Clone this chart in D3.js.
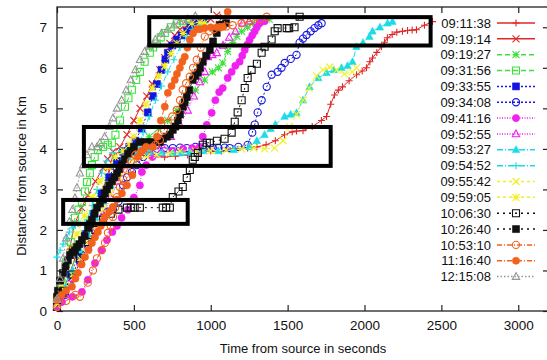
<!DOCTYPE html>
<html>
<head>
<meta charset="utf-8">
<script src="https://cdn.jsdelivr.net/npm/d3@7/dist/d3.min.js"></script>
<style>
body { margin: 0; background: #fff; overflow: hidden; }
text { font-family: "Liberation Sans", Arial, sans-serif; fill: #111; }
</style>
</head>
<body>
<svg id="chart"></svg>
<script>
// DATA  (time from source in s, distance in km)

var labels = ["09:11:38", "09:19:14", "09:19:27", "09:31:56", "09:33:55", "09:34:08",
	"09:41:16", "09:52:55", "09:53:27", "09:54:52", "09:55:42", "09:59:05",
	"10:06:30", "10:26:40", "10:53:10", "11:16:40", "12:15:08"];

var s091138 = [[0,0.15],[40,0.5],[80,0.9],[117,1.3],[160,1.7],[200,2.0],[250,2.5],[299,3.0],[340,3.5],[364,3.85],[420,3.95],[480,3.9],[540,3.85],[620,3.8],[700,3.8],[770,3.82],[850,3.85],[930,3.9],[1000,3.95],[1070,3.95],[1150,4.0],[1240,4.02],[1300,4.05],[1360,4.1],[1420,4.2],[1480,4.35],[1530,4.42],[1558,4.44],[1600,4.45],[1660,4.55],[1720,4.7],[1753,4.8],[1780,5.1],[1805,5.33],[1830,5.45],[1857,5.53],[1900,5.68],[1948,5.83],[1985,5.92],[2013,6.0],[2035,6.15],[2052,6.24],[2080,6.38],[2110,6.52],[2130,6.63],[2149,6.74],[2180,6.82],[2210,6.88],[2247,6.9],[2280,6.92],[2310,6.93],[2338,6.94],[2390,7.05],[2442,7.14]];
var s091914 = [[0,0.1],[30,0.5],[60,1.0],[84,1.58],[117,2.17],[160,2.55],[200,2.85],[250,3.2],[299,3.53],[330,3.75],[364,3.93],[409,4.05],[455,4.35],[500,4.7],[540,5.0],[584,5.3],[620,5.6],[669,5.95],[700,6.25],[734,6.6],[766,6.8],[800,6.95],[850,7.05],[900,7.1],[950,7.15],[1000,7.2],[1039,7.3],[1080,7.25]];
var s091927 = [[0,0.2],[40,0.5],[80,0.9],[130,1.4],[180,1.9],[230,2.4],[280,2.9],[330,3.3],[380,3.7],[430,3.95],[480,4.05],[540,4.15],[600,4.3],[660,4.5],[720,4.7],[780,4.95],[840,5.2],[900,5.45],[960,5.7],[1010,5.9],[1050,6.0],[1078,6.12],[1110,6.4],[1143,6.62],[1170,6.78],[1201,6.9],[1240,7.0],[1273,7.1],[1320,7.15],[1380,7.2]];
var s093156 = [[0,0.25],[30,0.7],[60,1.2],[90,1.7],[117,2.3],[140,2.5],[162,2.69],[182,2.95],[195,3.18],[214,3.4],[227,3.6],[245,3.8],[266,3.97],[300,4.05],[330,4.1],[357,4.15],[380,4.35],[410,4.7],[442,5.04],[465,5.25],[487,5.46],[515,5.7],[539,5.9],[570,6.15],[604,6.37],[625,6.5],[649,6.6],[675,6.75],[701,6.86],[740,7.0],[779,7.1],[820,7.15],[860,7.2]];
var s093355 = [[0,0.1],[40,0.4],[90,0.9],[140,1.4],[190,1.9],[240,2.4],[290,2.9],[340,3.3],[390,3.7],[430,3.95],[470,4.05],[510,4.2],[550,4.5],[590,4.9],[623,5.3],[650,5.6],[680,5.95],[705,6.2],[721,6.37],[750,6.55],[780,6.7],[810,6.8],[844,6.9],[870,7.0],[896,7.1],[930,7.15],[960,7.2]];
var s093408 = [[0,0.1],[50,0.4],[100,0.8],[150,1.2],[200,1.6],[250,2.0],[300,2.3],[330,2.45],[364,2.5],[400,2.7],[430,3.1],[455,3.3],[487,3.43],[520,3.6],[560,3.8],[600,3.95],[650,4.0],[700,4.02],[753,4.02],[800,4.03],[844,4.02],[900,4.05],[960,4.05],[1013,4.02],[1050,4.02],[1090,4.03],[1123,4.02],[1180,4.05],[1240,4.1],[1270,4.4],[1286,4.6],[1305,4.9],[1331,5.2],[1364,5.53],[1396,5.83],[1435,5.9],[1460,6.0],[1481,6.12],[1520,6.22],[1558,6.32],[1578,6.62],[1600,6.72],[1623,6.81],[1650,6.9],[1675,6.98],[1700,7.05],[1721,7.1]];
var s094116 = [[0,0.1],[32,0.22],[100,0.35],[162,0.47],[201,0.77],[247,1.18],[292,1.5],[325,1.75],[360,1.95],[390,2.1],[420,2.3],[461,2.5],[500,2.8],[539,3.1],[552,3.43],[580,3.6],[620,3.8],[680,3.9],[750,3.95],[820,4.0],[880,4.02],[929,4.05],[948,4.3],[974,4.59],[1006,4.89],[1030,5.2],[1055,5.4],[1078,5.5],[1110,5.75],[1136,5.9],[1160,6.05],[1188,6.15],[1205,6.3],[1221,6.44],[1238,6.57],[1253,6.69],[1270,6.8],[1286,6.9],[1300,7.0],[1318,7.1],[1350,7.15]];
var s095255 = [[0,0.1],[50,0.4],[100,0.8],[150,1.2],[200,1.6],[250,2.0],[300,2.4],[350,2.8],[400,3.2],[450,3.6],[500,3.9],[560,4.0],[620,4.05],[680,4.1],[740,4.3],[800,4.6],[850,4.95],[890,5.3],[930,5.65],[961,5.9],[981,6.27],[1010,6.32],[1039,6.37],[1080,6.55],[1120,6.75],[1160,6.9],[1208,7.1],[1250,7.15]];
var s095327 = [[0,0.2],[50,0.6],[100,1.0],[150,1.5],[200,1.9],[250,2.3],[300,2.7],[350,3.1],[400,3.5],[460,3.8],[520,3.9],[600,3.92],[680,3.9],[753,3.9],[810,3.9],[864,3.92],[950,3.95],[1050,3.95],[1150,3.98],[1250,4.05],[1300,4.2],[1350,4.35],[1390,4.5],[1420,4.6],[1480,4.8],[1520,4.85],[1558,4.89],[1600,5.2],[1643,5.53],[1700,5.75],[1753,5.88],[1800,5.95],[1850,6.0],[1890,6.05],[1922,6.15],[1948,6.52],[1990,6.62],[2032,6.77],[2052,6.9],[2100,7.0],[2150,7.1],[2182,7.14]];
var s095452 = [[0,1.33],[20,1.5],[40,1.65],[60,1.8],[80,1.95],[100,2.05],[120,2.12],[150,2.15],[182,2.17],[195,2.25],[230,2.6],[260,3.0],[290,3.4],[320,3.7],[360,3.9],[420,3.95],[480,4.0],[526,4.05],[560,4.4],[600,4.8],[640,5.2],[680,5.55],[720,5.9],[760,6.2],[800,6.5],[844,6.77],[880,6.95],[920,7.05],[960,7.1]];
var s095542 = [[0,0.15],[50,0.5],[100,0.9],[150,1.3],[200,1.7],[250,2.1],[300,2.5],[350,2.9],[400,3.3],[450,3.6],[500,3.75],[584,3.8],[650,3.85],[734,3.9],[800,3.95],[900,3.95],[1000,3.95],[1100,3.97],[1200,4.0],[1280,4.02],[1350,4.0],[1416,4.02],[1470,4.2],[1513,4.54],[1558,4.85],[1600,5.2],[1640,5.5],[1688,5.8],[1730,5.95],[1773,6.02],[1820,5.95],[1870,5.85],[1920,5.9],[1948,6.0]];
var s095905 = [[0,0.2],[30,0.6],[52,1.09],[90,1.5],[130,1.9],[180,2.35],[230,2.8],[280,3.2],[330,3.55],[380,3.8],[430,3.95],[470,4.1],[500,4.3],[540,4.7],[580,5.1],[620,5.5],[660,5.8],[700,6.05],[740,6.35],[780,6.6],[820,6.85],[877,7.1],[930,7.12],[961,7.1]];
var s100630 = [[0,0.1],[50,0.5],[100,0.9],[150,1.3],[200,1.7],[250,2.0],[300,2.25],[350,2.4],[400,2.5],[455,2.55],[480,2.55],[505,2.55],[539,2.55],[688,2.55],[710,2.55],[734,2.55],[753,2.81],[790,2.95],[818,3.06],[844,3.28],[864,3.48],[883,3.73],[896,3.8],[916,3.9],[948,4.1],[974,4.15],[994,4.15],[1040,4.2],[1090,4.25],[1136,4.4],[1156,4.67],[1175,4.9],[1201,5.2],[1221,5.5],[1240,5.75],[1266,5.95],[1300,6.1],[1331,6.37],[1350,6.52],[1396,6.7],[1416,6.9],[1435,6.98],[1494,6.98],[1510,6.98],[1545,7.0],[1578,7.26]];
var s102640 = [[0,0.35],[6,0.5],[20,0.75],[39,0.94],[55,1.1],[71,1.25],[84,1.38],[100,1.45],[117,1.5],[130,1.58],[145,1.65],[162,1.75],[180,1.85],[201,2.05],[215,2.15],[227,2.25],[245,2.4],[260,2.55],[280,2.65],[299,2.75],[312,2.9],[325,3.0],[340,3.1],[357,3.2],[375,3.3],[390,3.4],[405,3.5],[422,3.62],[440,3.75],[461,3.88],[480,3.95],[500,4.05],[539,4.17],[580,4.17],[620,4.17],[669,4.17],[690,4.25],[714,4.3],[734,4.35],[753,4.47],[770,4.55],[786,4.7],[800,4.85],[818,5.04],[830,5.15],[844,5.28],[860,5.45],[883,5.7],[900,5.8],[916,5.88],[930,6.0],[948,6.15],[970,6.3],[994,6.44],[1015,6.65],[1039,6.86],[1058,7.06],[1078,7.06],[1100,7.1]];
var s105310 = [[0,0.1],[60,0.25],[120,0.4],[149,0.35],[200,0.7],[234,1.0],[260,1.3],[290,1.5],[312,1.68],[331,1.93],[350,2.1],[364,2.32],[378,2.55],[390,2.81],[409,3.06],[430,3.25],[455,3.48],[480,3.7],[510,3.85],[550,3.95],[600,4.0],[640,4.1],[669,4.22],[695,4.45],[721,4.64],[750,4.8],[779,4.96],[800,5.2],[818,5.46],[840,5.62],[864,5.78],[885,6.0],[909,6.2],[935,6.5],[961,6.77],[990,6.9],[1020,6.95],[1060,7.0],[1100,7.02],[1143,7.05],[1200,7.1],[1260,7.15],[1320,7.2],[1364,7.26]];
var s111640 = [[0,0.27],[30,0.4],[60,0.5],[97,0.6],[120,0.8],[136,0.94],[160,1.15],[182,1.33],[205,1.5],[227,1.68],[247,1.82],[266,1.95],[285,2.1],[299,2.2],[312,2.32],[340,2.45],[364,2.57],[390,2.75],[422,2.9],[455,3.1],[490,3.35],[526,3.8],[552,3.95],[580,4.05],[623,4.05],[650,4.3],[675,4.7],[701,5.04],[721,5.38],[745,5.55],[766,5.7],[780,5.85],[799,6.0],[815,6.15],[831,6.27],[848,6.5],[864,6.69],[885,6.85],[909,6.95],[930,6.95],[960,6.98],[1000,7.0],[1040,7.0],[1078,7.01],[1110,7.38]];
var s121508 = [[0,0.3],[20,0.8],[40,1.3],[60,1.8],[80,2.2],[100,2.5],[117,2.79],[130,3.04],[149,3.4],[170,3.6],[195,3.85],[227,4.05],[260,4.05],[279,4.15],[310,4.3],[340,4.55],[364,4.76],[390,5.0],[420,5.2],[450,5.45],[480,5.7],[510,5.95],[540,6.2],[570,6.4],[600,6.55],[640,6.7],[680,6.85],[720,6.95],[760,7.05],[800,7.15],[850,7.2],[900,7.28]];

var series = [s091138, s091914, s091927, s093156, s093355, s093408, s094116, s095255,
	s095327, s095452, s095542, s095905, s100630, s102640, s105310, s111640, s121508];

var xTicks = [0, 500, 1000, 1500, 2000, 2500, 3000];
var yTicks = [0, 1, 2, 3, 4, 5, 6, 7];

// highlighted regions: [t0, t1, km0, km1]
var boxes = [[600, 2430, 6.55, 7.25], [175, 1780, 3.58, 4.54], [40, 850, 2.15, 2.74]];

// STYLES

var colors = ["#e02828", "#e02828", "#3ee03e", "#3ee03e", "#1414e0", "#1414e0",
	"#f020f0", "#f020f0", "#18dce8", "#18dce8", "#f2f020", "#f2f020",
	"#111111", "#111111", "#f2621c", "#f2621c", "#969696"];
var dashes = [null, null, "5,3", "5,3", "2,2", "2,2", "1,1.5", "1,1.5",
	"6,2,1,2", "6,2,1,2", "3,3", "3,3", "2,4", "2,4", "5,2,1,2", "5,2,1,2", "1.5,2"];
var shapes = ["plus", "cross", "star", "sqOpen", "sqFill", "circOpen", "circFill", "triOpen",
	"triFill", "plus", "cross", "star", "sqOpen", "sqFill", "circOpen", "circFill", "triOpen"];

// DIMENSIONS

var width = 547,
	height = 360,
	mLeft = 57,
	mRight = 549,
	mTop = 7,
	mBottom = 311;

var xScale = d3.scaleLinear().domain([0, 3200]).range([mLeft, mRight]);
var yScale = d3.scaleLinear().domain([0, 7.5]).range([mBottom, mTop]);

var svg = d3.select("#chart")
	.attr('width', width)
	.attr('height', height)
	.style('background', '#fff');

function shapePath(type) {
	var s = 3.5, r = 3.6;
	var circ = 'M' + r + ',0A' + r + ',' + r + ' 0 1,1 ' + (-r) + ',0A' + r + ',' + r + ' 0 1,1 ' + r + ',0Z';
	var tri = 'M0,' + (-s * 1.15) + 'L' + s * 1.05 + ',' + s * 0.8 + 'L' + (-s * 1.05) + ',' + s * 0.8 + 'Z';
	var sq = 'M' + (-s) + ',' + (-s) + 'h' + 2 * s + 'v' + 2 * s + 'h' + (-2 * s) + 'Z';
	var plus = 'M' + (-s) + ',0H' + s + 'M0,' + (-s) + 'V' + s;
	var cross = 'M' + (-s) + ',' + (-s) + 'L' + s + ',' + s + 'M' + (-s) + ',' + s + 'L' + s + ',' + (-s);
	if (type == 'plus') return plus;
	if (type == 'cross') return cross;
	if (type == 'star') return plus + cross;
	if (type.indexOf('sq') == 0) return sq;
	if (type.indexOf('circ') == 0) return circ;
	return tri;
}

function drawMarker(sel, type, color) {
	var filled = /Fill$/.test(type);
	sel.append('path')
		.attr('d', shapePath(type))
		.attr('fill', filled ? color : 'none')
		.attr('stroke', color)
		.attr('stroke-width', filled ? 0.6 : 1.1);
}

// AXES (gnuplot style, ticks inward on all sides)

var fmt = d3.format('d');
var xAxis = d3.axisBottom(xScale).tickValues(xTicks).tickFormat(fmt).tickSizeInner(-6).tickSizeOuter(0).tickPadding(9);
var yAxis = d3.axisLeft(yScale).tickValues(yTicks).tickFormat(fmt).tickSizeInner(-6).tickSizeOuter(0).tickPadding(10);
var xTop = d3.axisTop(xScale).tickValues(xTicks).tickSizeInner(-6).tickSizeOuter(0).tickFormat('');
var yRight = d3.axisRight(yScale).tickValues(yTicks).tickSizeInner(-6).tickSizeOuter(0).tickFormat('');

[[xAxis, 'translate(0,' + mBottom + ')'], [yAxis, 'translate(' + mLeft + ',0)'],
 [xTop, 'translate(0,' + mTop + ')'], [yRight, 'translate(' + mRight + ',0)']].forEach(function(a) {
	var g = svg.append('g').attr('transform', a[1]).call(a[0]);
	g.select('.domain').remove();
	g.selectAll('line').attr('stroke', '#222').attr('stroke-width', 1.2);
	g.selectAll('text').style('font-size', '13.5px').attr('fill', '#111');
});

svg.append('rect')
	.attr('x', mLeft).attr('y', mTop)
	.attr('width', mRight - mLeft).attr('height', mBottom - mTop)
	.attr('fill', 'none').attr('stroke', '#222').attr('stroke-width', 1.3);

svg.append('text')
	.attr('x', (mLeft + mRight) / 2).attr('y', 353)
	.attr('text-anchor', 'middle')
	.style('font-size', '13px')
	.text('Time from source in seconds');

svg.append('text')
	.attr('transform', 'translate(26,176) rotate(-90)')
	.attr('text-anchor', 'middle')
	.style('font-size', '13px')
	.text('Distance from source in Km');

// SERIES

var line = d3.line()
	.x(function(d) { return xScale(d[0]); })
	.y(function(d) { return yScale(d[1]); });

series.forEach(function(data, i) {
	var g = svg.append('g');
	g.append('path')
		.datum(data)
		.attr('d', line)
		.attr('fill', 'none')
		.attr('stroke', colors[i])
		.attr('stroke-width', 1)
		.attr('stroke-dasharray', dashes[i]);
	g.selectAll('g.pt').data(data)
		.enter().append('g')
		.attr('class', 'pt')
		.attr('transform', function(d) { return 'translate(' + xScale(d[0]) + ',' + yScale(d[1]) + ')'; })
		.each(function() { drawMarker(d3.select(this), shapes[i], colors[i]); });
});

// BOXES

svg.selectAll('rect.box').data(boxes)
	.enter().append('rect')
	.attr('class', 'box')
	.attr('x', function(d) { return xScale(d[0]); })
	.attr('y', function(d) { return yScale(d[3]); })
	.attr('width', function(d) { return xScale(d[1]) - xScale(d[0]); })
	.attr('height', function(d) { return yScale(d[2]) - yScale(d[3]); })
	.attr('fill', 'none')
	.attr('stroke', '#000')
	.attr('stroke-width', 4);

// LEGEND

var key = svg.selectAll('g.key').data(labels)
	.enter().append('g')
	.attr('class', 'key')
	.attr('transform', function(d, i) { return 'translate(0,' + (23 + i * 15.85) + ')'; });

key.append('text')
	.attr('x', 491)
	.attr('dy', '0.36em')
	.attr('text-anchor', 'end')
	.style('font-size', '13px')
	.text(function(d) { return d; });

key.append('line')
	.attr('x1', 497).attr('x2', 535)
	.attr('stroke', function(d, i) { return colors[i]; })
	.attr('stroke-width', 1.5)
	.attr('stroke-dasharray', function(d, i) { return dashes[i]; });

key.append('g')
	.attr('transform', 'translate(516,0)')
	.each(function(d, i) { drawMarker(d3.select(this), shapes[i], colors[i]); });
</script>
</body>
</html>
